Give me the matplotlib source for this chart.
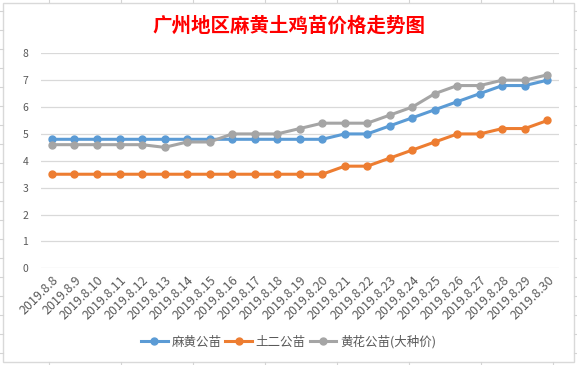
import matplotlib
matplotlib.use("Agg")
import matplotlib.pyplot as plt
from matplotlib.lines import Line2D
from matplotlib.patches import Rectangle

plt.rcParams['font.family'] = ['Noto Sans CJK SC', 'DejaVu Sans']

dates = ['2019.8.8', '2019.8.9', '2019.8.10', '2019.8.11', '2019.8.12', '2019.8.13',
         '2019.8.14', '2019.8.15', '2019.8.16', '2019.8.17', '2019.8.18', '2019.8.19',
         '2019.8.20', '2019.8.21', '2019.8.22', '2019.8.23', '2019.8.24', '2019.8.25',
         '2019.8.26', '2019.8.27', '2019.8.28', '2019.8.29', '2019.8.30']

mahuang = [4.8, 4.8, 4.8, 4.8, 4.8, 4.8, 4.8, 4.8, 4.8, 4.8, 4.8, 4.8, 4.8,
           5.0, 5.0, 5.3, 5.6, 5.9, 6.2, 6.5, 6.8, 6.8, 7.0]
tuer = [3.5, 3.5, 3.5, 3.5, 3.5, 3.5, 3.5, 3.5, 3.5, 3.5, 3.5, 3.5, 3.5,
        3.8, 3.8, 4.1, 4.4, 4.7, 5.0, 5.0, 5.2, 5.2, 5.5]
huanghua = [4.6, 4.6, 4.6, 4.6, 4.6, 4.5, 4.7, 4.7, 5.0, 5.0, 5.0, 5.2, 5.4,
            5.4, 5.4, 5.7, 6.0, 6.5, 6.8, 6.8, 7.0, 7.0, 7.2]

series = [('麻黄公苗', mahuang, '#5B9BD5'),
          ('土二公苗', tuer, '#ED7D31'),
          ('黄花公苗(大种价)', huanghua, '#A5A5A5')]

W, H = 577, 365
fig = plt.figure(figsize=(W / 100, H / 100), dpi=100)

# spreadsheet cell lines peeking around the chart box
grid_c = '#D4D4D4'
for cx in range(49, W, 72):
    fig.add_artist(Line2D([cx / W] * 2, [1, 1 - 2 / H], color=grid_c, lw=0.8))
    fig.add_artist(Line2D([cx / W] * 2, [0, 3 / H], color=grid_c, lw=0.8))
for ry in range(11, H, 19):
    fig.add_artist(Line2D([0, 3 / W], [1 - ry / H] * 2, color=grid_c, lw=0.8))
    fig.add_artist(Line2D([574 / W, 1], [1 - ry / H] * 2, color=grid_c, lw=0.8))

# chart area border
fig.add_artist(Rectangle((3 / W, 3 / H), 571 / W, 359 / H, fill=False,
                         edgecolor='#D9D9D9', lw=1))

ax = fig.add_axes([40.7 / W, 1 - 268.3 / H, 518 / W, 215 / H])
x = range(len(dates))
for name, vals, col in series:
    ax.plot(x, vals, color=col, lw=2.2, marker='o', markersize=5, label=name)

ax.set_ylim(0, 8)
ax.set_xlim(-0.5, len(dates) - 0.5)
ax.set_yticks(range(9))
ax.grid(axis='y', color='#D9D9D9', lw=0.9)
ax.set_axisbelow(True)
for s in ax.spines.values():
    s.set_visible(False)
ax.tick_params(length=0, colors='#595959', labelsize=7.5)
ax.tick_params(axis='y', pad=9)
ax.set_xticks(list(x))
ax.set_xticklabels(dates, rotation=45, ha='right', rotation_mode='anchor',
                   fontsize=9, color='#595959')
ax.tick_params(axis='x', pad=4)

fig.text(0.5, 1 - 26 / H, '广州地区麻黄土鸡苗价格走势图', ha='center', va='center',
         color='#FF0000', fontsize=14, fontweight='bold')

fig.legend(loc='center', bbox_to_anchor=(0.5, 1 - 342 / H), ncol=3, frameon=False,
           fontsize=9, handlelength=2.15, columnspacing=0.3, handletextpad=0.3,
           labelcolor='#595959')

fig.savefig('out.png', dpi=100)
